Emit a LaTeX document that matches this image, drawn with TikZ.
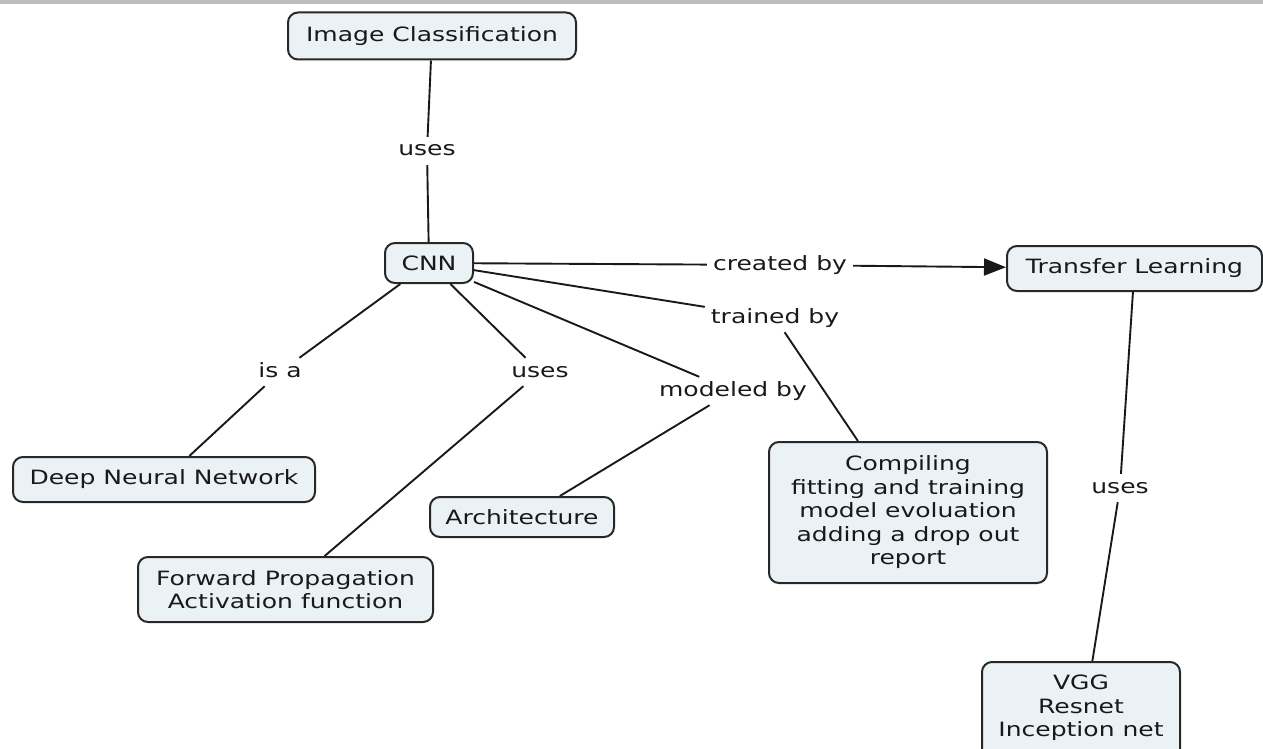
\documentclass[tikz,border=0pt]{standalone}
\usepackage{fontspec}
\setmainfont{DejaVu Sans}[FakeStretch=1.27]
\usetikzlibrary{arrows.meta}
\definecolor{boxfill}{RGB}{235,242,245}
\definecolor{boxdraw}{RGB}{40,40,40}
\definecolor{topbar}{RGB}{189,189,189}
\definecolor{txt}{RGB}{25,25,25}
\begin{document}
\begin{tikzpicture}[x=1pt,y=-1pt,
  concept/.style={draw=boxdraw, line width=2pt, fill=boxfill, rounded corners=10pt,
    align=center, inner sep=0pt, text=txt,
    font=\fontsize{19.7}{23.5}\selectfont},
  lbl/.style={inner xsep=6pt, inner ysep=5pt, text=txt, text height=14pt, text depth=4pt,
    font=\fontsize{19.7}{23.5}\selectfont},
  conn/.style={line width=1.9pt, draw=black!90},
  arr/.style={conn, -{Triangle[length=22pt,width=17pt]}}]
\useasboundingbox (0,0) rectangle (1263,749);
\fill[topbar] (0,0) rectangle (1263,4.5);

% concepts
\node[concept, minimum width=288pt, minimum height=47pt] (ic)   at (432,36)    {Image Classification};
\node[concept, minimum width=88pt,  minimum height=40pt] (cnn)  at (429,263)   {CNN};
\node[concept, minimum width=255pt, minimum height=45pt] (tl)   at (1134.5,268.5) {Transfer Learning};
\node[concept, minimum width=302pt, minimum height=45pt] (dnn)  at (164,479.5) {Deep Neural Network};
\node[concept, minimum width=295pt, minimum height=65pt] (fp)   at (285.5,589.5) {Forward Propagation\\Activation function};
\node[concept, minimum width=184pt, minimum height=40pt] (arch) at (522,517)  {Architecture};
\node[concept, minimum width=278pt, minimum height=141pt] (comp) at (908,512.5) {Compiling\\fitting and training\\model evoluation\\adding a drop out\\report};
\node[concept, minimum width=198pt, inner ysep=13pt, anchor=north] (vgg) at (1081,661) {VGG\\Resnet\\Inception net\\[30pt]};

% linking phrases
\node[lbl] (l1) at (427,151) {uses};
\node[lbl] (l2) at (780,265) {created by};
\node[lbl] (l3) at (775,318) {trained by};
\node[lbl] (l4) at (280,372) {is a};
\node[lbl] (l5) at (540,372) {uses};
\node[lbl] (l6) at (733,391) {modeled by};
\node[lbl] (l7) at (1120,488) {uses};

% connectors
\draw[conn] (ic) -- (l1);
\draw[conn] (l1) -- (cnn);
\draw[conn] (cnn) -- (l2);
\draw[arr]  (l2) -- (tl);
\draw[conn] (cnn) -- (l3);
\draw[conn] (l3) -- (comp.125);
\draw[conn] (cnn) -- (l4);
\draw[conn] (l4) -- (dnn);
\draw[conn] (cnn) -- (l5);
\draw[conn] (l5) -- (fp);
\draw[conn] (cnn) -- (l6);
\draw[conn] (l6) -- (arch.29);
\draw[conn] (tl) -- (l7);
\draw[conn] (l7) -- (vgg);
\end{tikzpicture}
\end{document}
